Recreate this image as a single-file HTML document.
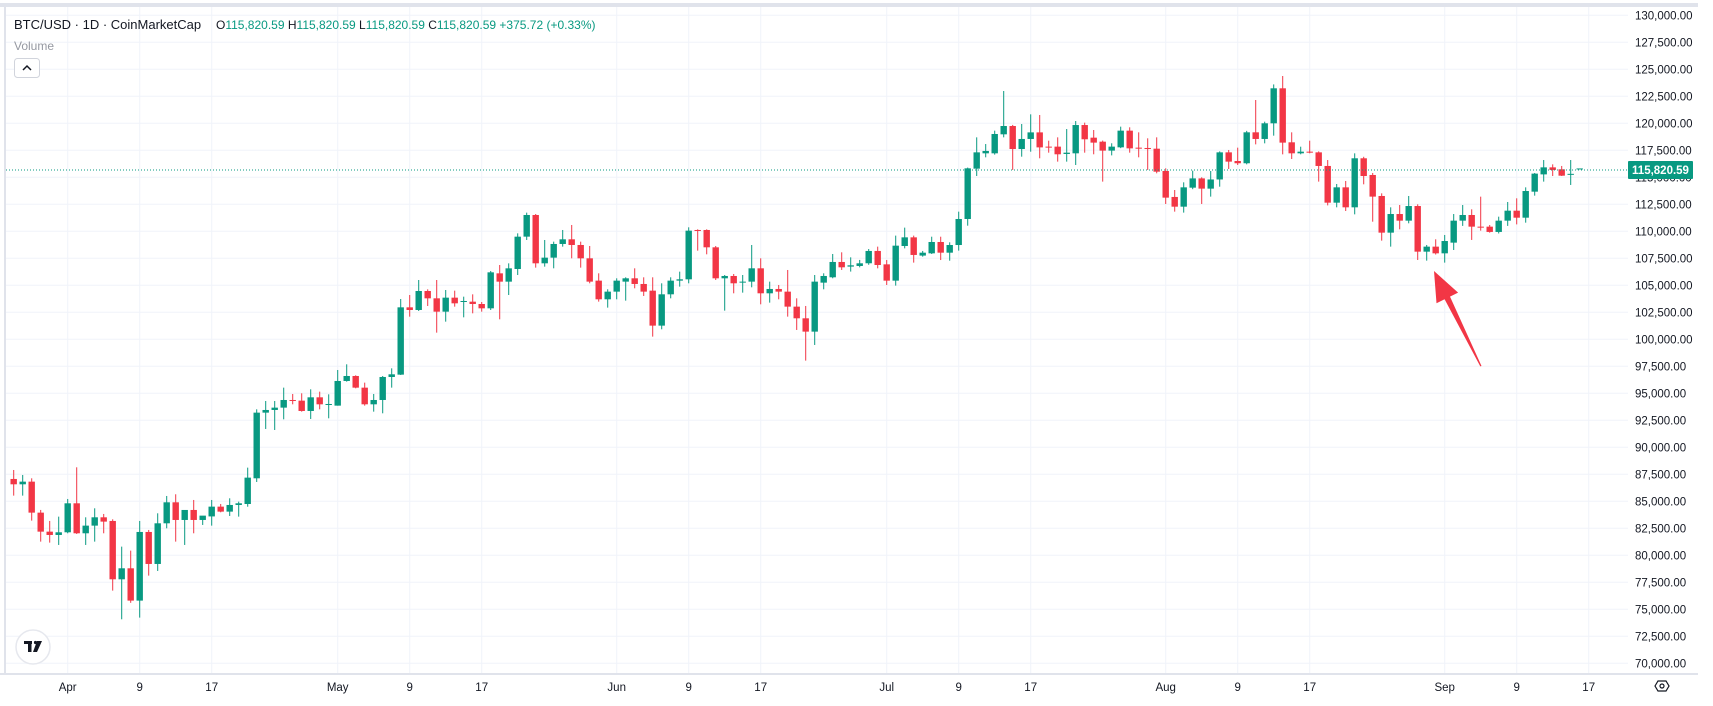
<!DOCTYPE html>
<html><head><meta charset="utf-8"><style>
html,body{margin:0;padding:0;background:#fff;width:1713px;height:706px;overflow:hidden}
svg{display:block;font-family:"Liberation Sans",sans-serif}
</style></head><body>
<svg id="chart" width="1713" height="706" viewBox="0 0 1713 706" xmlns="http://www.w3.org/2000/svg">
<rect x="0" y="0" width="1713" height="706" fill="#fff"/>
<rect x="0" y="3" width="1698" height="4" fill="#e0e3eb"/>
<rect x="4" y="7" width="2" height="667" fill="#e0e3eb"/>
<g id="grid"></g>
<g id="candles"></g>
<line x1="6" y1="170" x2="1628" y2="170" stroke="#089981" stroke-width="1" stroke-dasharray="1,2"/>
<g id="yaxis"></g>
<g id="xaxis"></g>
<rect x="0" y="673" width="1698" height="2" fill="#e0e3eb"/>
<g>
<rect x="1628" y="161" width="65" height="18" rx="1" fill="#089981"/>
<text x="1660.5" y="174" text-anchor="middle" font-size="11.5" font-weight="bold" fill="#fff">115,820.59</text>
</g>
<g>
<text x="14" y="29" font-size="13" fill="#131722">BTC/USD · 1D · CoinMarketCap</text>
<text x="216" y="29" font-size="12" fill="#089981"><tspan fill="#131722">O</tspan>115,820.59 <tspan fill="#131722">H</tspan>115,820.59 <tspan fill="#131722">L</tspan>115,820.59 <tspan fill="#131722">C</tspan>115,820.59 +375.72 (+0.33%)</text>
<text x="14" y="50" font-size="12" fill="#9598a1">Volume</text>
<g>
<rect x="14.5" y="58.5" width="25" height="19" rx="3" fill="#fff" stroke="#d1d4dc"/>
<path d="M23 70 L27 66 L31 70" fill="none" stroke="#131722" stroke-width="1.5"/>
</g>
</g>
<g>
<circle cx="33" cy="647" r="17" fill="#fff" stroke="#e6e8ee" stroke-width="1.5"/>
<rect x="24" y="641" width="8" height="3" fill="#131722"/>
<rect x="28" y="641" width="3.5" height="11" fill="#131722"/>
<circle cx="35.5" cy="642.5" r="1.6" fill="#131722"/>
<path d="M37 641 L42 641 L37 652 L33 652 Z" fill="#131722"/>
</g>
<path d="M1434 271 L1458.1 292.6 L1450 296.6 L1481.5 366 L1480.3 366.4 L1444.6 299.2 L1436.5 303.2 Z" fill="#f23645"/>
<g>
<path d="M1655 686 L1658 681 L1666 681 L1669 686 L1666 691 L1658 691 Z" fill="none" stroke="#131722" stroke-width="1.2"/>
<circle cx="1662" cy="686" r="2" fill="none" stroke="#131722" stroke-width="1.2"/>
</g>
</svg>
<script>
// Daily candles Mar 26 - Sep 16
const opens = [
87068,86574,86820,83950,82190,81883,
82130,84815,82038,82747,83518,83180,77778,78797,75804,82161,79198,82963,84907,83272,84198,83272,83600,84506,84043,84660,84750,87130,93209,93456,93672,94381,94320,93363,94628,93980,
93857,96141,96603,95523,93980,94381,96511,96727,102960,102714,104473,103794,102559,103856,103454,103485,103269,102868,106108,105337,106509,109505,111510,107036,107560,108826,109258,108733,107498,105431,103703,
104413,105339,105647,105123,104505,101265,104166,105431,105554,110122,110122,108517,105647,105863,105246,105339,106573,104259,104660,104413,103024,101944,100710,105246,105740,107160,106730,106790,107040,108180,
106940,105430,108640,109440,107750,107960,109010,108020,108730,111140,115800,117220,117220,118980,119750,117620,118550,119160,117840,117840,117160,117220,119840,118670,118300,117470,117775,119320,117745,117715,117650,
115585,113180,112280,114040,114900,113950,114800,117310,116510,116300,119165,118550,120000,123240,118240,117220,117375,117310,116050,112650,114070,112220,116760,115215,113270,109875,111600,110985,112340,108115,108580,
107960,108950,110985,111510,110430,110430,109940,110985,111910,111260,113670,115270,115920,115740,115250,115820
];
const highs = [
87900,87438,87130,84200,83180,83580,
85216,88148,83518,84352,83828,83333,80803,80433,83180,82347,83889,85494,85650,83580,85124,83580,85124,84753,85278,84970,88117,93517,94289,94289,95524,94937,95000,95369,95153,94906,
97159,97684,96665,95987,94937,96603,97313,103732,104102,105491,104627,105491,104565,104504,103948,104164,103454,106324,106880,107034,109811,111727,111603,109196,109042,110122,110585,109042,108641,106110,104629,
105647,105740,106573,105740,105740,105185,105740,106264,110369,110184,110184,108641,105955,106048,105955,108733,107499,105339,105030,106419,103795,103086,105955,106110,107900,108055,107590,107350,108360,108580,
107340,109600,110340,109600,108180,109500,109500,108980,111820,115900,118700,118080,119320,122990,119850,119935,120830,120770,118390,118700,119470,120210,120060,119380,118400,118150,119690,119630,119164,118610,118700,
115830,113825,114535,115615,115000,115585,117400,117530,117745,119300,122157,120150,123600,124380,119164,117835,118390,117400,116600,114380,114660,117220,116900,115400,113516,112220,112436,113270,112500,108734,109260,
109660,111600,112436,112035,113208,110585,111355,112715,113054,114070,115400,116600,116200,116050,116600,115820
];
const lows = [
85525,85525,83210,81266,81173,80958,
82038,81977,80958,81266,82038,76729,74075,75600,74230,78118,78550,82500,81266,80958,82038,82810,82747,83982,83642,83580,84500,86790,91697,91604,92591,93980,93301,92622,93517,92684,
93857,96079,95462,93857,93301,93147,95524,96696,102096,102621,103084,100615,101634,103022,102034,102405,102559,102714,101850,104103,105954,109196,106635,106727,106573,108579,107499,106635,105185,103487,102932,
103703,103579,104721,104012,100247,100926,103795,104876,105185,108208,107869,105493,102653,104259,104320,104815,103240,103394,103703,102098,100864,98025,99475,104629,105650,106420,106270,106665,106900,106570,
105030,104970,108420,107100,107650,107900,107340,107280,108210,110520,115120,116850,117100,118700,115680,116910,117370,116760,117280,116450,116450,116140,117280,117130,114600,117030,117700,117280,116850,115680,115370,
112530,111820,111730,113900,112530,113210,114130,115770,116140,116200,118050,118145,118855,117125,116695,117130,117220,114600,112400,112220,111880,111570,114350,110890,109134,108580,110184,110740,107345,107283,107850,
107100,108270,110500,109200,110060,109875,109800,110500,110640,110800,113300,114600,115120,115120,114290,115820
];
const closes = [
86574,86820,83950,82190,81883,82130,
84815,82038,82747,83518,83118,77778,78797,75804,82161,79198,82963,84907,83272,84198,83272,83673,84506,84043,84660,84815,87191,93209,93456,93672,94381,94350,93363,94628,93980,94010,
96141,96603,95523,93980,94381,96511,96758,102960,102714,104473,103794,102559,103856,103331,103547,103269,102868,106201,105337,106571,109503,111510,107036,107560,108826,109258,108733,107498,105339,103703,104413,
105431,105647,105123,104413,101265,104166,105431,105554,110060,110060,108517,105647,105863,105185,105339,106573,104259,104660,104413,103024,101944,100710,105339,105863,107160,106665,106850,107036,108180,106880,
105430,108670,109440,107810,108020,109010,108020,108730,111140,115830,117310,117440,119010,119750,117620,118550,119160,117770,117750,117130,117280,119840,118520,118210,117470,117840,119320,117680,117650,117620,115520,
113116,112280,114070,114900,113950,114800,117310,116450,116300,119165,118550,120000,123240,118210,117220,117375,117280,116050,112650,114070,112220,116760,115120,113210,109875,111600,110985,112340,108115,108580,107960,
109100,110985,111510,110430,110370,109940,110985,111910,111260,113730,115340,115920,115680,115150,115320,115820
];
const priceTicks = [130000,127500,125000,122500,120000,117500,115000,112500,110000,107500,105000,102500,100000,97500,95000,92500,90000,87500,85000,82500,80000,77500,75000,72500,70000];
const dateTickLabels = ["Apr","9","17","May","9","17","Jun","9","17","Jul","9","17","Aug","9","17","Sep","9","17"];
const dateTickIndex = [6,14,22,36,44,52,67,75,83,97,105,113,128,136,144,159,167,175];

const NS = "http://www.w3.org/2000/svg";
function xOf(i){ return 67.7 + (i - 6) * 9.0; }
function yOf(p){ return 15.3 + (130000 - p) / 2500 * 27.0; }
function mk(tag, attrs, parent){
  const e = document.createElementNS(NS, tag);
  for (const k in attrs) e.setAttribute(k, attrs[k]);
  parent.appendChild(e);
  return e;
}
const grid = document.getElementById('grid');
const yaxis = document.getElementById('yaxis');
const xaxis = document.getElementById('xaxis');
const cg = document.getElementById('candles');

priceTicks.forEach(function(p){
  const y = yOf(p);
  const l = mk('line', {x1:6, x2:1628, y1:y, y2:y, stroke:'#f0f3fa', 'stroke-width':1}, grid);
  
  
  const t = mk('text', {x:1635, y:y+4, 'font-size':11.5, fill:'#131722'}, yaxis);
  
  
  t.textContent = p.toLocaleString('en-US', {minimumFractionDigits:2, maximumFractionDigits:2});
});
dateTickIndex.forEach(function(i, k){
  const x = xOf(i);
  const l = mk('line', {x1:x, x2:x, y1:7, y2:673, stroke:'#f0f3fa', 'stroke-width':1}, grid);
  
  
  const t = mk('text', {x:x, y:691, 'font-size':11.5, fill:'#131722', 'text-anchor':'middle'}, xaxis);
  
  
  t.textContent = dateTickLabels[k];
});
closes.forEach(function(c, i){
  const o = opens[i], h = highs[i], lo = lows[i];
  const col = c >= o ? '#089981' : '#f23645';
  const x = xOf(i);
  const g = mk('g', {}, cg);
  
  
  mk('line', {x1:x, x2:x, y1:yOf(h), y2:yOf(lo), stroke:col, 'stroke-width':1}, g);
  const top = yOf(Math.max(o, c));
  const bh = Math.max(1, yOf(Math.min(o, c)) - top);
  mk('rect', {x:x-3.2, y:top, width:6.4, height:bh, fill:col}, g);
});
</script>
</body></html>
